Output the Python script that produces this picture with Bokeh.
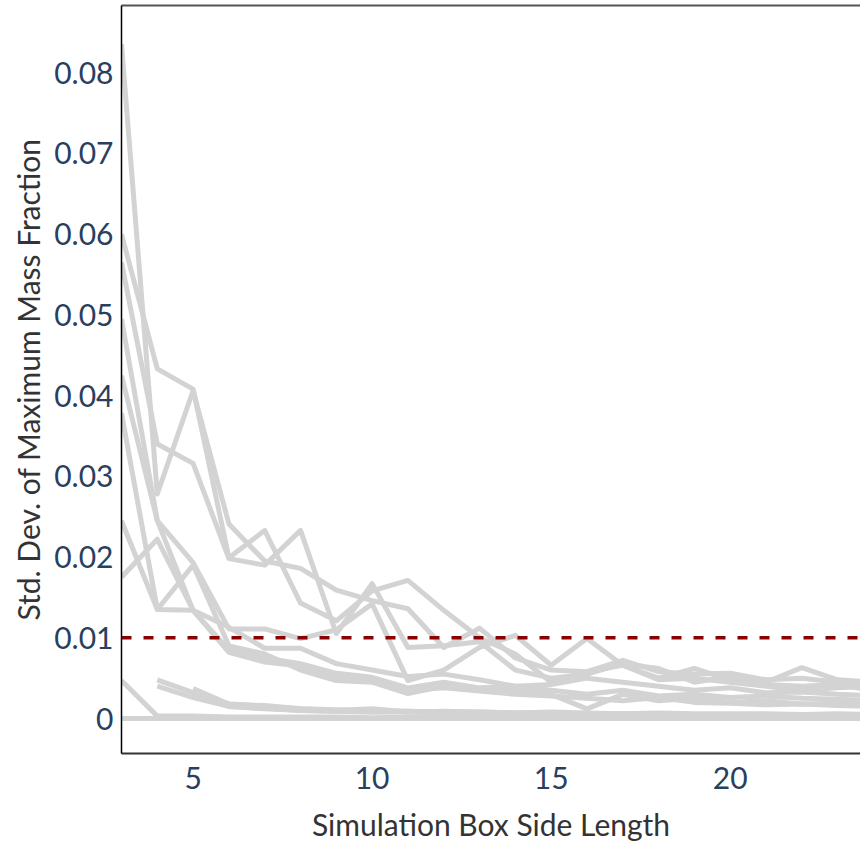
from bokeh.plotting import figure
from bokeh.models import Range1d, LinearAxis, FixedTicker, CustomJSTickFormatter, Span
from bokeh.embed import file_html
from bokeh.resources import INLINE

# ---- data ----
box_len = list(range(3, 26))

s1 = [0.0835, 0.0278, 0.0406, 0.0241, 0.0195, 0.0186, 0.0159, 0.0146, 0.0136, 0.0088, 0.0112, 0.0075, 0.0060, 0.0058, 0.0066, 0.0050, 0.0062, 0.0048, 0.0045, 0.0063, 0.0048, 0.0045, 0.0040]
s2 = [0.0600, 0.0433, 0.0408, 0.0199, 0.0233, 0.0143, 0.0121, 0.0158, 0.0171, 0.0134, 0.0100, 0.0080, 0.0045, 0.0058, 0.0072, 0.0058, 0.0055, 0.0056, 0.0048, 0.0050, 0.0045, 0.0042, 0.0040]
s3 = [0.0565, 0.0340, 0.0316, 0.0198, 0.0190, 0.0233, 0.0105, 0.0167, 0.0088, 0.0090, 0.0095, 0.0060, 0.0050, 0.0055, 0.0068, 0.0062, 0.0045, 0.0052, 0.0042, 0.0040, 0.0042, 0.0035, 0.0032]
s4 = [0.0495, 0.0245, 0.0193, 0.0111, 0.0111, 0.0099, 0.0110, 0.0142, 0.0047, 0.0060, 0.0088, 0.0103, 0.0066, 0.0099, 0.0066, 0.0048, 0.0050, 0.0045, 0.0040, 0.0035, 0.0038, 0.0040, 0.0030]
s5 = [0.0425, 0.0245, 0.0134, 0.0113, 0.0087, 0.0087, 0.0068, 0.0060, 0.0052, 0.0055, 0.0048, 0.0040, 0.0042, 0.0050, 0.0045, 0.0040, 0.0035, 0.0038, 0.0032, 0.0033, 0.0030, 0.0028, 0.0026]
s6 = [0.0378, 0.0135, 0.0134, 0.0085, 0.0075, 0.0068, 0.0056, 0.0051, 0.0038, 0.0045, 0.0038, 0.0040, 0.0035, 0.0030, 0.0035, 0.0028, 0.0030, 0.0026, 0.0028, 0.0025, 0.0024, 0.0022, 0.0020]
s7 = [0.0245, 0.0135, 0.0190, 0.0090, 0.0080, 0.0060, 0.0047, 0.0045, 0.0031, 0.0040, 0.0037, 0.0035, 0.0030, 0.0012, 0.0030, 0.0022, 0.0025, 0.0020, 0.0022, 0.0018, 0.0019, 0.0017, 0.0016]
s8 = [0.0175, 0.0222, 0.0134, 0.0082, 0.0070, 0.0065, 0.0052, 0.0048, 0.0035, 0.0038, 0.0034, 0.0030, 0.0028, 0.0025, 0.0022, 0.0026, 0.0020, 0.0019, 0.0017, 0.0018, 0.0016, 0.0015, 0.0014]

# low-variance runs (some start at larger boxes)
l1_start, l1 = 3, [0.0047, 0.0003, 0.0003, 0.0002, 0.0002, 0.0002, 0.0002, 0.0001, 0.0002, 0.0001, 0.0001, 0.0001, 0.0001, 0.0001, 0.0001, 0.0001, 0.0001, 0.0001, 0.0001, 0.0001, 0.0001, 0.0001, 0.0001]
l2_start, l2 = 4, [0.0048, 0.0032, 0.0018, 0.0015, 0.0012, 0.0010, 0.0012, 0.0008, 0.0009, 0.0008, 0.0007, 0.0008, 0.0007, 0.0006, 0.0007, 0.0006, 0.0006, 0.0006, 0.0005, 0.0006, 0.0005, 0.0005]
l3_start, l3 = 4, [0.0040, 0.0026, 0.0015, 0.0013, 0.0010, 0.0009, 0.0008, 0.0009, 0.0007, 0.0006, 0.0007, 0.0006, 0.0005, 0.0006, 0.0005, 0.0005, 0.0004, 0.0005, 0.0004, 0.0004, 0.0004, 0.0004]
l4_start, l4 = 5, [0.0037, 0.0018, 0.0016, 0.0012, 0.0011, 0.0010, 0.0009, 0.0008, 0.0008, 0.0007, 0.0007, 0.0006, 0.0006, 0.0005, 0.0005, 0.0005, 0.0005, 0.0004, 0.0004, 0.0004, 0.0004]
l5_start, l5 = 5, [0.0030, 0.0015, 0.0012, 0.0010, 0.0009, 0.0008, 0.0008, 0.0007, 0.0006, 0.0006, 0.0005, 0.0005, 0.0005, 0.0004, 0.0004, 0.0004, 0.0004, 0.0003, 0.0003, 0.0003, 0.0003]
l6_start, l6 = 3, [0.0000] * 23

threshold = 0.01
y_ticks = [0.0, 0.01, 0.02, 0.03, 0.04, 0.05, 0.06, 0.07, 0.08]
x_ticks = [5, 10, 15, 20]

# ---- build ----
xs, ys = [], []
for s in [s1, s2, s3, s4, s5, s6, s7, s8]:
    xs.append(box_len[:len(s)])
    ys.append(s)
for st, s in [(l1_start, l1), (l2_start, l2), (l3_start, l3), (l4_start, l4), (l5_start, l5), (l6_start, l6)]:
    xs.append(list(range(st, st + len(s))))
    ys.append(s)

FONT = "Lato"
p = figure(width=860, height=845, output_backend="svg", toolbar_location=None,
           x_range=Range1d(3, 23.64), y_range=Range1d(-0.00433, 0.0883),
           min_border_left=121, min_border_right=0, min_border_top=5, min_border_bottom=92)
p.outline_line_color = None
p.grid.visible = False
p.background_fill_color = "white"

p.multi_line(xs, ys, line_color="#d3d3d3", line_width=5, line_join="round")
p.add_layout(Span(location=threshold, dimension="width", line_color="#8b0000",
                  line_width=3.5, line_dash="10 12"))

xa = p.xaxis[0]
xa.ticker = FixedTicker(ticks=x_ticks)
xa.axis_label = "Simulation Box Side Length"
ya = p.yaxis[0]
ya.ticker = FixedTicker(ticks=y_ticks)
ya.formatter = CustomJSTickFormatter(code="return tick === 0 ? '0' : tick.toFixed(2);")
ya.axis_label = "Std. Dev. of Maximum Mass Fraction"

for ax in (xa, ya):
    ax.major_tick_out = 0
    ax.major_tick_in = 0
    ax.minor_tick_out = 0
    ax.minor_tick_in = 0
    ax.major_label_text_font = FONT
    ax.major_label_text_font_size = "30px"
    ax.major_label_text_color = "#2a3f5f"
    ax.axis_label_text_font = FONT
    ax.axis_label_text_font_size = "30px"
    ax.axis_label_text_font_style = "normal"
    ax.axis_label_text_color = "#333333"
xa.axis_line_color = "#333333"
xa.axis_line_width = 2
ya.axis_line_color = "#000000"
ya.axis_line_width = 1.5
xa.major_label_standoff = 13
xa.axis_label_standoff = 14
ya.major_label_standoff = 8
ya.axis_label_standoff = 5

top = LinearAxis(ticker=FixedTicker(ticks=[]), major_label_text_font_size="0px",
                 major_tick_out=0, minor_tick_out=0, major_label_standoff=0,
                 axis_line_color="#555555", axis_line_width=2)
p.add_layout(top, "above")

open("out.html", "w").write(file_html(p, INLINE))
